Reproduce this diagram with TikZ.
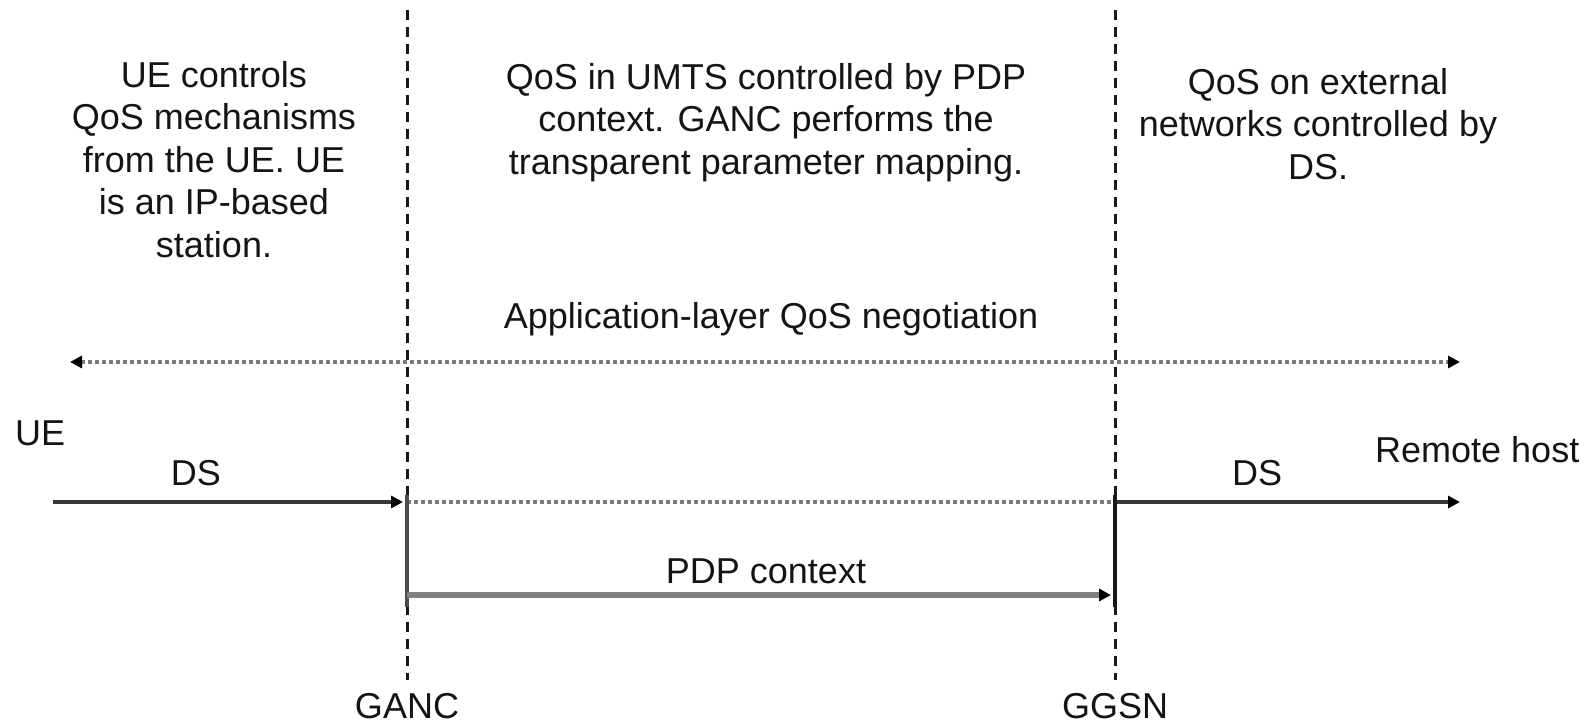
\documentclass[tikz,border=0pt]{standalone}
\usepackage{fontspec}
\setmainfont{Liberation Sans}
\usetikzlibrary{arrows.meta}
\tikzset{
  lbl/.style={font=\fontsize{36}{42.5}\selectfont, inner sep=0pt, text=black!92},
  boundary/.style={draw=black!90, line width=3pt, dash pattern=on 10pt off 7pt},
  negline/.style={draw=black!52, line width=3.5pt, dash pattern=on 4pt off 3pt},
  dsline/.style={draw=black!78, line width=4.5pt},
  pdpline/.style={draw=black!50, line width=6pt},
  tipend/.style={-{Triangle[length=12pt,width=12pt,color=black]}},
  tipboth/.style={{Triangle[length=12pt,width=12pt,color=black]}-{Triangle[length=12pt,width=12pt,color=black]}},
}
\begin{document}
\begin{tikzpicture}[x=1pt,y=-1pt]
  \useasboundingbox (0,0) rectangle (1595,724);

  % reference points
  \coordinate (gancTop) at (407,10);
  \coordinate (gancBot) at (407,680);
  \coordinate (ggsnTop) at (1115,10);
  \coordinate (ggsnBot) at (1115,680);
  \coordinate (negL) at (70,362);
  \coordinate (negR) at (1460,362);
  \coordinate (ueStart) at (53,502);
  \coordinate (gancDS) at (407,502);
  \coordinate (ggsnDS) at (1115,502);
  \coordinate (rhEnd) at (1460,502);
  \coordinate (gancHi) at (407,495);
  \coordinate (gancLo) at (407,607);
  \coordinate (ggsnHi) at (1115,495);
  \coordinate (ggsnLo) at (1115,607);
  \coordinate (gancPDP) at (407,595);
  \coordinate (ggsnPDP) at (1111,595);
  \coordinate (gancDSin) at (403,502);

  % domain boundaries
  \draw[boundary] (gancTop) -- (gancBot);
  \draw[boundary] (ggsnTop) -- (ggsnBot);

  % end-to-end application negotiation
  \draw[negline, tipboth] (negL) -- (negR);

  % DS segments and UMTS bearer
  \draw[dsline, tipend] (ueStart) -- (gancDSin);
  \draw[negline] (gancDS) -- (ggsnDS);
  \draw[dsline, tipend] (ggsnDS) -- (rhEnd);

  % PDP context
  \draw[draw=black!70, line width=4pt] (gancHi) -- (gancLo);
  \draw[draw=black!90, line width=4pt] (ggsnHi) -- (ggsnLo);
  \draw[pdpline, tipend] (gancPDP) -- (ggsnPDP);

  % descriptions
  \node[lbl, align=center, anchor=north] (ueText) at (214,61)
    {UE controls\\QoS mechanisms\\from the UE. UE\\is an IP-based\\station.};
  \node[lbl, align=center, anchor=north] (umtsText) at (766,63)
    {QoS in UMTS controlled by PDP\\context. GANC performs the\\transparent parameter mapping.};
  \node[lbl, align=center, anchor=north] (extText) at (1318,68)
    {QoS on external\\networks controlled by\\DS.};

  \node[lbl, anchor=base] (appText) at (771,328) {Application-layer QoS negotiation};
  \node[lbl, anchor=base west] (ueLbl) at (15,445) {UE};
  \node[lbl, anchor=base] (dsLeft) at (196,485) {DS};
  \node[lbl, anchor=base] (dsRight) at (1257,485) {DS};
  \node[lbl, anchor=base west] (rhLbl) at (1375,462) {Remote host};
  \node[lbl, anchor=base] (pdpLbl) at (766,583) {PDP context};
  \node[lbl, anchor=base] (gancLbl) at (407,718) {GANC};
  \node[lbl, anchor=base] (ggsnLbl) at (1115,718) {GGSN};
\end{tikzpicture}
\end{document}
